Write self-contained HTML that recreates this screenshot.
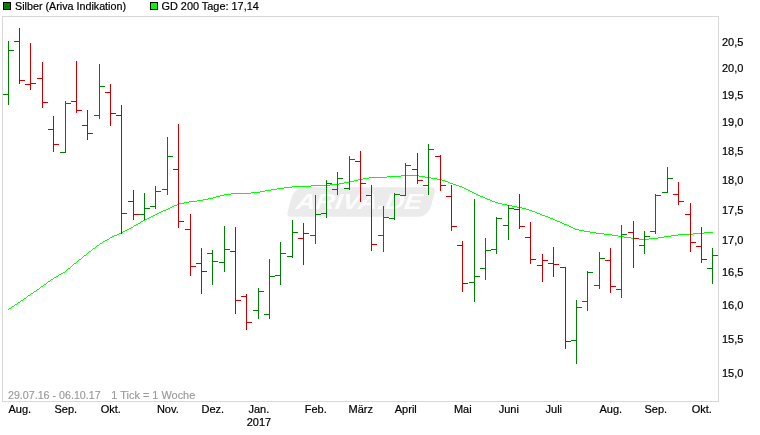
<!DOCTYPE html>
<html><head><meta charset="utf-8"><title>Silber Chart</title>
<style>
html,body{margin:0;padding:0;background:#fff;}
svg{display:block;}
text{font-family:"Liberation Sans",sans-serif;font-size:11px;fill:#000;stroke:#000;stroke-width:0.2px;}
.g{fill:#999;stroke:#999;stroke-width:0.15px;}
.wm{stroke:none;font-size:22px;font-weight:bold;font-style:italic;fill:#fcfcfc;}
</style></head><body>
<svg width="760" height="435" viewBox="0 0 760 435">
<rect x="0" y="0" width="760" height="435" fill="#fff"/>
<g><path d="M304 187.3 H431.5 Q436 187.3 435 191.5 L432 203 Q428.5 216.8 418 216.8 H291 Q286.5 216.8 287.5 212.5 L290.5 201 Q294 187.3 304 187.3 Z" fill="#ebebeb"/><text class="wm" x="295.5" y="209.5" transform="translate(295.5 209.5) skewX(-8) translate(-295.5 -209.5)" textLength="126" lengthAdjust="spacingAndGlyphs">ARIVA.DE</text></g>
<rect x="2.5" y="16.5" width="716" height="385" fill="none" stroke="#d8d8d8" stroke-width="1" shape-rendering="crispEdges"/>
<g shape-rendering="crispEdges" fill="#e4e4e4"><rect x="8" y="402" width="1" height="1"/><rect x="19" y="402" width="1" height="1"/><rect x="65" y="402" width="1" height="1"/><rect x="110" y="402" width="1" height="1"/><rect x="167" y="402" width="1" height="1"/><rect x="212" y="402" width="1" height="1"/><rect x="258" y="402" width="1" height="1"/><rect x="315" y="402" width="1" height="1"/><rect x="360" y="402" width="1" height="1"/><rect x="405" y="402" width="1" height="1"/><rect x="462" y="402" width="1" height="1"/><rect x="508" y="402" width="1" height="1"/><rect x="553" y="402" width="1" height="1"/><rect x="610" y="402" width="1" height="1"/><rect x="655" y="402" width="1" height="1"/><rect x="701" y="402" width="1" height="1"/></g>
<g shape-rendering="crispEdges" fill="#00ff00"><rect x="8" y="309" width="1" height="1"/><rect x="9" y="308" width="2" height="1"/><rect x="11" y="307" width="1" height="1"/><rect x="12" y="306" width="2" height="1"/><rect x="14" y="305" width="1" height="1"/><rect x="15" y="304" width="2" height="1"/><rect x="17" y="303" width="1" height="1"/><rect x="18" y="302" width="2" height="1"/><rect x="20" y="301" width="1" height="1"/><rect x="21" y="300" width="2" height="1"/><rect x="23" y="299" width="1" height="1"/><rect x="24" y="298" width="2" height="1"/><rect x="26" y="297" width="1" height="1"/><rect x="27" y="296" width="1" height="1"/><rect x="28" y="295" width="2" height="1"/><rect x="30" y="294" width="1" height="1"/><rect x="31" y="293" width="2" height="1"/><rect x="33" y="292" width="1" height="1"/><rect x="34" y="291" width="2" height="1"/><rect x="36" y="290" width="1" height="1"/><rect x="37" y="289" width="2" height="1"/><rect x="39" y="288" width="1" height="1"/><rect x="40" y="287" width="1" height="1"/><rect x="41" y="286" width="2" height="1"/><rect x="43" y="285" width="1" height="1"/><rect x="44" y="284" width="2" height="1"/><rect x="46" y="283" width="1" height="1"/><rect x="47" y="282" width="1" height="1"/><rect x="48" y="281" width="2" height="1"/><rect x="50" y="280" width="1" height="1"/><rect x="51" y="279" width="2" height="1"/><rect x="53" y="278" width="1" height="1"/><rect x="54" y="277" width="2" height="1"/><rect x="56" y="276" width="2" height="1"/><rect x="58" y="275" width="1" height="1"/><rect x="59" y="274" width="2" height="1"/><rect x="61" y="273" width="2" height="1"/><rect x="63" y="272" width="2" height="1"/><rect x="65" y="271" width="1" height="1"/><rect x="66" y="270" width="1" height="1"/><rect x="67" y="269" width="1" height="1"/><rect x="68" y="268" width="2" height="1"/><rect x="70" y="267" width="1" height="1"/><rect x="71" y="266" width="1" height="1"/><rect x="72" y="265" width="1" height="1"/><rect x="73" y="264" width="1" height="1"/><rect x="74" y="263" width="2" height="1"/><rect x="76" y="262" width="1" height="1"/><rect x="77" y="261" width="1" height="1"/><rect x="78" y="260" width="1" height="1"/><rect x="79" y="259" width="2" height="1"/><rect x="81" y="258" width="1" height="1"/><rect x="82" y="257" width="1" height="1"/><rect x="83" y="256" width="1" height="1"/><rect x="84" y="255" width="2" height="1"/><rect x="86" y="254" width="1" height="1"/><rect x="87" y="253" width="1" height="1"/><rect x="88" y="252" width="1" height="1"/><rect x="89" y="251" width="2" height="1"/><rect x="91" y="250" width="1" height="1"/><rect x="92" y="249" width="1" height="1"/><rect x="93" y="248" width="2" height="1"/><rect x="95" y="247" width="1" height="1"/><rect x="96" y="246" width="1" height="1"/><rect x="97" y="245" width="2" height="1"/><rect x="99" y="244" width="1" height="1"/><rect x="100" y="243" width="2" height="1"/><rect x="102" y="242" width="1" height="1"/><rect x="103" y="241" width="2" height="1"/><rect x="105" y="240" width="2" height="1"/><rect x="107" y="239" width="2" height="1"/><rect x="109" y="238" width="1" height="1"/><rect x="110" y="237" width="2" height="1"/><rect x="112" y="236" width="2" height="1"/><rect x="114" y="235" width="3" height="1"/><rect x="117" y="234" width="2" height="1"/><rect x="119" y="233" width="2" height="1"/><rect x="121" y="232" width="2" height="1"/><rect x="123" y="231" width="2" height="1"/><rect x="125" y="230" width="2" height="1"/><rect x="127" y="229" width="2" height="1"/><rect x="129" y="228" width="2" height="1"/><rect x="131" y="227" width="2" height="1"/><rect x="133" y="226" width="1" height="1"/><rect x="134" y="225" width="2" height="1"/><rect x="136" y="224" width="2" height="1"/><rect x="138" y="223" width="2" height="1"/><rect x="140" y="222" width="1" height="1"/><rect x="141" y="221" width="2" height="1"/><rect x="143" y="220" width="2" height="1"/><rect x="145" y="219" width="2" height="1"/><rect x="147" y="218" width="2" height="1"/><rect x="149" y="217" width="2" height="1"/><rect x="151" y="216" width="2" height="1"/><rect x="153" y="215" width="2" height="1"/><rect x="155" y="214" width="2" height="1"/><rect x="157" y="213" width="2" height="1"/><rect x="159" y="212" width="2" height="1"/><rect x="161" y="211" width="2" height="1"/><rect x="163" y="210" width="3" height="1"/><rect x="166" y="209" width="2" height="1"/><rect x="168" y="208" width="2" height="1"/><rect x="170" y="207" width="2" height="1"/><rect x="172" y="206" width="2" height="1"/><rect x="174" y="205" width="3" height="1"/><rect x="177" y="204" width="2" height="1"/><rect x="179" y="203" width="5" height="1"/><rect x="184" y="202" width="5" height="1"/><rect x="189" y="201" width="8" height="1"/><rect x="197" y="200" width="6" height="1"/><rect x="203" y="199" width="5" height="1"/><rect x="208" y="198" width="5" height="1"/><rect x="213" y="197" width="3" height="1"/><rect x="216" y="196" width="4" height="1"/><rect x="220" y="195" width="4" height="1"/><rect x="224" y="194" width="7" height="1"/><rect x="231" y="193" width="20" height="1"/><rect x="251" y="192" width="9" height="1"/><rect x="260" y="191" width="5" height="1"/><rect x="265" y="190" width="6" height="1"/><rect x="271" y="189" width="6" height="1"/><rect x="277" y="188" width="7" height="1"/><rect x="284" y="187" width="8" height="1"/><rect x="292" y="186" width="19" height="1"/><rect x="311" y="185" width="19" height="1"/><rect x="330" y="184" width="9" height="1"/><rect x="339" y="183" width="5" height="1"/><rect x="344" y="182" width="6" height="1"/><rect x="350" y="181" width="4" height="1"/><rect x="354" y="180" width="4" height="1"/><rect x="358" y="179" width="5" height="1"/><rect x="363" y="178" width="6" height="1"/><rect x="369" y="177" width="18" height="1"/><rect x="387" y="176" width="14" height="1"/><rect x="401" y="175" width="18" height="1"/><rect x="419" y="176" width="6" height="1"/><rect x="425" y="177" width="6" height="1"/><rect x="431" y="178" width="6" height="1"/><rect x="437" y="179" width="5" height="1"/><rect x="442" y="180" width="3" height="1"/><rect x="445" y="181" width="3" height="1"/><rect x="448" y="182" width="2" height="1"/><rect x="450" y="183" width="3" height="1"/><rect x="453" y="184" width="3" height="1"/><rect x="456" y="185" width="3" height="1"/><rect x="459" y="186" width="3" height="1"/><rect x="462" y="187" width="2" height="1"/><rect x="464" y="188" width="2" height="1"/><rect x="466" y="189" width="2" height="1"/><rect x="468" y="190" width="2" height="1"/><rect x="470" y="191" width="2" height="1"/><rect x="472" y="192" width="2" height="1"/><rect x="474" y="193" width="2" height="1"/><rect x="476" y="194" width="2" height="1"/><rect x="478" y="195" width="2" height="1"/><rect x="480" y="196" width="3" height="1"/><rect x="483" y="197" width="2" height="1"/><rect x="485" y="198" width="2" height="1"/><rect x="487" y="199" width="3" height="1"/><rect x="490" y="200" width="2" height="1"/><rect x="492" y="201" width="3" height="1"/><rect x="495" y="202" width="3" height="1"/><rect x="498" y="203" width="4" height="1"/><rect x="502" y="204" width="5" height="1"/><rect x="507" y="205" width="5" height="1"/><rect x="512" y="206" width="5" height="1"/><rect x="517" y="207" width="5" height="1"/><rect x="522" y="208" width="4" height="1"/><rect x="526" y="209" width="3" height="1"/><rect x="529" y="210" width="3" height="1"/><rect x="532" y="211" width="3" height="1"/><rect x="535" y="212" width="2" height="1"/><rect x="537" y="213" width="3" height="1"/><rect x="540" y="214" width="2" height="1"/><rect x="542" y="215" width="3" height="1"/><rect x="545" y="216" width="3" height="1"/><rect x="548" y="217" width="2" height="1"/><rect x="550" y="218" width="3" height="1"/><rect x="553" y="219" width="2" height="1"/><rect x="555" y="220" width="2" height="1"/><rect x="557" y="221" width="3" height="1"/><rect x="560" y="222" width="2" height="1"/><rect x="562" y="223" width="2" height="1"/><rect x="564" y="224" width="3" height="1"/><rect x="567" y="225" width="2" height="1"/><rect x="569" y="226" width="2" height="1"/><rect x="571" y="227" width="2" height="1"/><rect x="573" y="228" width="2" height="1"/><rect x="575" y="229" width="4" height="1"/><rect x="579" y="230" width="5" height="1"/><rect x="584" y="231" width="6" height="1"/><rect x="590" y="232" width="6" height="1"/><rect x="596" y="233" width="8" height="1"/><rect x="604" y="234" width="8" height="1"/><rect x="612" y="235" width="6" height="1"/><rect x="618" y="236" width="6" height="1"/><rect x="624" y="237" width="7" height="1"/><rect x="631" y="238" width="8" height="1"/><rect x="639" y="239" width="10" height="1"/><rect x="649" y="238" width="9" height="1"/><rect x="658" y="237" width="6" height="1"/><rect x="664" y="236" width="7" height="1"/><rect x="671" y="235" width="7" height="1"/><rect x="678" y="234" width="15" height="1"/><rect x="693" y="233" width="11" height="1"/><rect x="704" y="232" width="9" height="1"/></g>
<g shape-rendering="crispEdges"><g fill="#008000"><rect x="8" y="41" width="1" height="64"/><rect x="3" y="94" width="5" height="1"/><rect x="9" y="50" width="5" height="1"/></g><g fill="#cc0000"><rect x="19" y="28" width="1" height="56"/><rect x="14" y="41" width="5" height="1"/><rect x="20" y="80" width="5" height="1"/></g><g fill="#cc0000"><rect x="30" y="43" width="1" height="47"/><rect x="25" y="84" width="5" height="1"/><rect x="31" y="83" width="5" height="1"/></g><g fill="#cc0000"><rect x="42" y="62" width="1" height="46"/><rect x="37" y="78" width="5" height="1"/><rect x="43" y="102" width="5" height="1"/></g><g fill="#cc0000"><rect x="53" y="116" width="1" height="36"/><rect x="48" y="129" width="5" height="1"/><rect x="54" y="144" width="5" height="1"/></g><g fill="#008000"><rect x="65" y="101" width="1" height="52"/><rect x="60" y="152" width="5" height="1"/><rect x="66" y="103" width="5" height="1"/></g><g fill="#cc0000"><rect x="76" y="61" width="1" height="52"/><rect x="71" y="101" width="5" height="1"/><rect x="77" y="110" width="5" height="1"/></g><g fill="#cc0000"><rect x="87" y="110" width="1" height="30"/><rect x="82" y="125" width="5" height="1"/><rect x="88" y="133" width="5" height="1"/></g><g fill="#008000"><rect x="99" y="64" width="1" height="55"/><rect x="94" y="115" width="5" height="1"/><rect x="100" y="86" width="5" height="1"/></g><g fill="#cc0000"><rect x="110" y="84" width="1" height="42"/><rect x="105" y="92" width="5" height="1"/><rect x="111" y="113" width="5" height="1"/></g><g fill="#cc0000"><rect x="121" y="105" width="1" height="129"/><rect x="116" y="115" width="5" height="1"/><rect x="122" y="213" width="5" height="1"/></g><g fill="#cc0000"><rect x="133" y="190" width="1" height="30"/><rect x="128" y="201" width="5" height="1"/><rect x="134" y="214" width="5" height="1"/></g><g fill="#008000"><rect x="144" y="193" width="1" height="27"/><rect x="139" y="214" width="5" height="1"/><rect x="145" y="208" width="5" height="1"/></g><g fill="#008000"><rect x="155" y="186" width="1" height="23"/><rect x="150" y="206" width="5" height="1"/><rect x="156" y="191" width="5" height="1"/></g><g fill="#008000"><rect x="167" y="137" width="1" height="58"/><rect x="162" y="189" width="5" height="1"/><rect x="168" y="156" width="5" height="1"/></g><g fill="#cc0000"><rect x="178" y="124" width="1" height="104"/><rect x="173" y="169" width="5" height="1"/><rect x="179" y="221" width="5" height="1"/></g><g fill="#cc0000"><rect x="190" y="214" width="1" height="62"/><rect x="185" y="229" width="5" height="1"/><rect x="191" y="266" width="5" height="1"/></g><g fill="#cc0000"><rect x="201" y="248" width="1" height="46"/><rect x="196" y="263" width="5" height="1"/><rect x="202" y="271" width="5" height="1"/></g><g fill="#008000"><rect x="212" y="250" width="1" height="35"/><rect x="207" y="253" width="5" height="1"/><rect x="213" y="261" width="5" height="1"/></g><g fill="#008000"><rect x="224" y="226" width="1" height="46"/><rect x="219" y="262" width="5" height="1"/><rect x="225" y="249" width="5" height="1"/></g><g fill="#cc0000"><rect x="235" y="227" width="1" height="87"/><rect x="230" y="251" width="5" height="1"/><rect x="236" y="300" width="5" height="1"/></g><g fill="#cc0000"><rect x="246" y="294" width="1" height="36"/><rect x="241" y="296" width="5" height="1"/><rect x="247" y="322" width="5" height="1"/></g><g fill="#008000"><rect x="258" y="288" width="1" height="31"/><rect x="253" y="310" width="5" height="1"/><rect x="259" y="291" width="5" height="1"/></g><g fill="#008000"><rect x="269" y="259" width="1" height="60"/><rect x="264" y="314" width="5" height="1"/><rect x="270" y="276" width="5" height="1"/></g><g fill="#008000"><rect x="280" y="242" width="1" height="43"/><rect x="275" y="275" width="5" height="1"/><rect x="281" y="253" width="5" height="1"/></g><g fill="#008000"><rect x="292" y="220" width="1" height="38"/><rect x="287" y="256" width="5" height="1"/><rect x="293" y="232" width="5" height="1"/></g><g fill="#cc0000"><rect x="303" y="223" width="1" height="42"/><rect x="298" y="238" width="5" height="1"/><rect x="304" y="233" width="5" height="1"/></g><g fill="#008000"><rect x="315" y="195" width="1" height="49"/><rect x="310" y="235" width="5" height="1"/><rect x="316" y="214" width="5" height="1"/></g><g fill="#008000"><rect x="326" y="180" width="1" height="38"/><rect x="321" y="213" width="5" height="1"/><rect x="327" y="183" width="5" height="1"/></g><g fill="#008000"><rect x="337" y="172" width="1" height="23"/><rect x="332" y="189" width="5" height="1"/><rect x="338" y="178" width="5" height="1"/></g><g fill="#008000"><rect x="349" y="156" width="1" height="34"/><rect x="344" y="188" width="5" height="1"/><rect x="350" y="159" width="5" height="1"/></g><g fill="#cc0000"><rect x="360" y="151" width="1" height="51"/><rect x="355" y="161" width="5" height="1"/><rect x="361" y="183" width="5" height="1"/></g><g fill="#cc0000"><rect x="371" y="185" width="1" height="66"/><rect x="366" y="195" width="5" height="1"/><rect x="372" y="244" width="5" height="1"/></g><g fill="#008000"><rect x="383" y="206" width="1" height="46"/><rect x="378" y="235" width="5" height="1"/><rect x="384" y="217" width="5" height="1"/></g><g fill="#008000"><rect x="394" y="193" width="1" height="27"/><rect x="389" y="218" width="5" height="1"/><rect x="395" y="194" width="5" height="1"/></g><g fill="#008000"><rect x="405" y="163" width="1" height="33"/><rect x="400" y="195" width="5" height="1"/><rect x="406" y="165" width="5" height="1"/></g><g fill="#cc0000"><rect x="417" y="153" width="1" height="31"/><rect x="412" y="169" width="5" height="1"/><rect x="418" y="180" width="5" height="1"/></g><g fill="#008000"><rect x="428" y="144" width="1" height="51"/><rect x="423" y="185" width="5" height="1"/><rect x="429" y="149" width="5" height="1"/></g><g fill="#cc0000"><rect x="440" y="155" width="1" height="36"/><rect x="435" y="156" width="5" height="1"/><rect x="441" y="185" width="5" height="1"/></g><g fill="#cc0000"><rect x="451" y="185" width="1" height="46"/><rect x="446" y="196" width="5" height="1"/><rect x="452" y="226" width="5" height="1"/></g><g fill="#cc0000"><rect x="462" y="241" width="1" height="51"/><rect x="457" y="245" width="5" height="1"/><rect x="463" y="283" width="5" height="1"/></g><g fill="#008000"><rect x="474" y="199" width="1" height="103"/><rect x="469" y="282" width="5" height="1"/><rect x="475" y="276" width="5" height="1"/></g><g fill="#008000"><rect x="485" y="238" width="1" height="42"/><rect x="480" y="268" width="5" height="1"/><rect x="486" y="250" width="5" height="1"/></g><g fill="#008000"><rect x="496" y="217" width="1" height="37"/><rect x="491" y="249" width="5" height="1"/><rect x="497" y="218" width="5" height="1"/></g><g fill="#008000"><rect x="508" y="205" width="1" height="35"/><rect x="503" y="225" width="5" height="1"/><rect x="509" y="208" width="5" height="1"/></g><g fill="#cc0000"><rect x="519" y="194" width="1" height="35"/><rect x="514" y="209" width="5" height="1"/><rect x="520" y="226" width="5" height="1"/></g><g fill="#cc0000"><rect x="530" y="222" width="1" height="42"/><rect x="525" y="237" width="5" height="1"/><rect x="531" y="259" width="5" height="1"/></g><g fill="#cc0000"><rect x="542" y="254" width="1" height="28"/><rect x="537" y="265" width="5" height="1"/><rect x="543" y="260" width="5" height="1"/></g><g fill="#cc0000"><rect x="553" y="247" width="1" height="30"/><rect x="548" y="263" width="5" height="1"/><rect x="554" y="264" width="5" height="1"/></g><g fill="#cc0000"><rect x="565" y="267" width="1" height="82"/><rect x="560" y="267" width="5" height="1"/><rect x="566" y="341" width="5" height="1"/></g><g fill="#008000"><rect x="576" y="300" width="1" height="64"/><rect x="571" y="340" width="5" height="1"/><rect x="577" y="307" width="5" height="1"/></g><g fill="#008000"><rect x="587" y="271" width="1" height="40"/><rect x="582" y="301" width="5" height="1"/><rect x="588" y="272" width="5" height="1"/></g><g fill="#008000"><rect x="599" y="252" width="1" height="37"/><rect x="594" y="285" width="5" height="1"/><rect x="600" y="258" width="5" height="1"/></g><g fill="#cc0000"><rect x="610" y="248" width="1" height="45"/><rect x="605" y="260" width="5" height="1"/><rect x="611" y="286" width="5" height="1"/></g><g fill="#008000"><rect x="621" y="225" width="1" height="73"/><rect x="616" y="289" width="5" height="1"/><rect x="622" y="234" width="5" height="1"/></g><g fill="#cc0000"><rect x="633" y="221" width="1" height="47"/><rect x="628" y="232" width="5" height="1"/><rect x="634" y="238" width="5" height="1"/></g><g fill="#008000"><rect x="644" y="231" width="1" height="23"/><rect x="639" y="245" width="5" height="1"/><rect x="645" y="236" width="5" height="1"/></g><g fill="#008000"><rect x="655" y="194" width="1" height="40"/><rect x="650" y="231" width="5" height="1"/><rect x="656" y="195" width="5" height="1"/></g><g fill="#008000"><rect x="667" y="167" width="1" height="26"/><rect x="662" y="192" width="5" height="1"/><rect x="668" y="178" width="5" height="1"/></g><g fill="#cc0000"><rect x="678" y="182" width="1" height="23"/><rect x="673" y="194" width="5" height="1"/><rect x="679" y="201" width="5" height="1"/></g><g fill="#cc0000"><rect x="690" y="203" width="1" height="49"/><rect x="685" y="214" width="5" height="1"/><rect x="691" y="242" width="5" height="1"/></g><g fill="#cc0000"><rect x="701" y="227" width="1" height="36"/><rect x="696" y="246" width="5" height="1"/><rect x="702" y="259" width="5" height="1"/></g><g fill="#008000"><rect x="712" y="248" width="1" height="36"/><rect x="707" y="268" width="5" height="1"/><rect x="713" y="255" width="5" height="1"/></g></g>
<rect x="3.5" y="2.5" width="7" height="7" fill="#008000" stroke="#000" stroke-width="1" shape-rendering="crispEdges"/><text x="15" y="10" textLength="111" lengthAdjust="spacingAndGlyphs">Silber (Ariva Indikation)</text><rect x="150.5" y="2.5" width="7" height="7" fill="#00ff00" stroke="#000" stroke-width="1" shape-rendering="crispEdges"/><text x="161.5" y="10" textLength="97.3" lengthAdjust="spacingAndGlyphs">GD 200 Tage: 17,14</text>
<text x="722" y="46">20,5</text><text x="722" y="72">20,0</text><text x="722" y="99">19,5</text><text x="722" y="126">19,0</text><text x="722" y="155">18,5</text><text x="722" y="184">18,0</text><text x="722" y="214">17,5</text><text x="722" y="244">17,0</text><text x="722" y="276">16,5</text><text x="722" y="309">16,0</text><text x="722" y="343">15,5</text><text x="722" y="377">15,0</text>
<text x="19.8" y="413" text-anchor="middle">Aug.</text><text x="65.8" y="413" text-anchor="middle">Sep.</text><text x="110.8" y="413" text-anchor="middle">Okt.</text><text x="167.8" y="413" text-anchor="middle">Nov.</text><text x="212.8" y="413" text-anchor="middle">Dez.</text><text x="258.8" y="413" text-anchor="middle">Jan.</text><text x="315.8" y="413" text-anchor="middle">Feb.</text><text x="360.8" y="413" text-anchor="middle">März</text><text x="405.8" y="413" text-anchor="middle">April</text><text x="462.8" y="413" text-anchor="middle">Mai</text><text x="508.8" y="413" text-anchor="middle">Juni</text><text x="553.8" y="413" text-anchor="middle">Juli</text><text x="610.8" y="413" text-anchor="middle">Aug.</text><text x="655.8" y="413" text-anchor="middle">Sep.</text><text x="701.8" y="413" text-anchor="middle">Okt.</text><text x="259" y="426" text-anchor="middle">2017</text>
<text class="g" x="8" y="399" textLength="92.6" lengthAdjust="spacingAndGlyphs">29.07.16 - 06.10.17</text><text class="g" x="111.3" y="399" textLength="84" lengthAdjust="spacingAndGlyphs">1 Tick = 1 Woche</text>
</svg></body></html>
